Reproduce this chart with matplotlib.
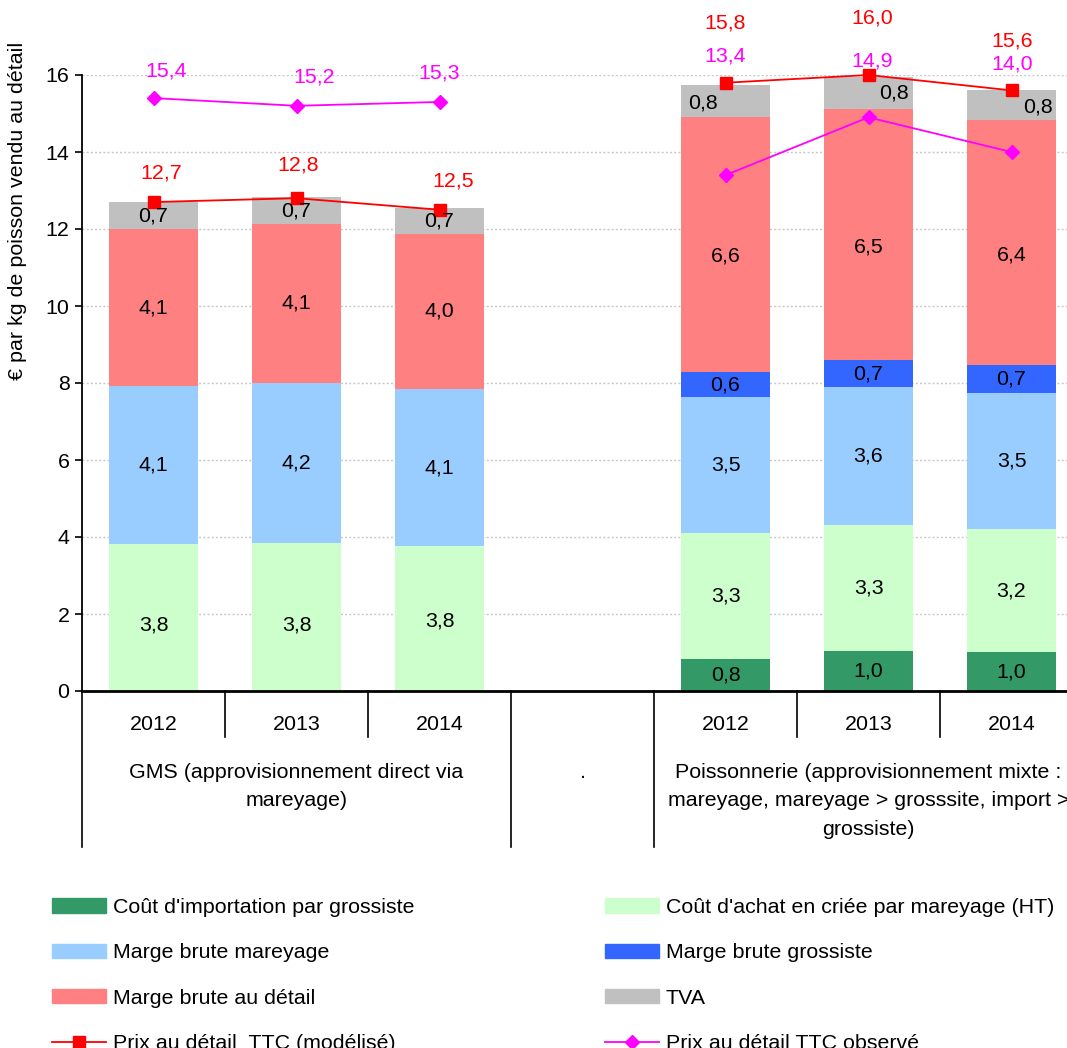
import numpy as np
import matplotlib
matplotlib.use("Agg")
import matplotlib.pyplot as plt
from matplotlib.patches import Patch
from matplotlib.lines import Line2D

plt.rcParams['font.family'] = ['Liberation Sans', 'DejaVu Sans']

# ---- data ---------------------------------------------------------------
years = ["2012", "2013", "2014", "", "2012", "2013", "2014"]
groups = ["GMS (approvisionnement direct via\nmareyage)",
          ".",
          "Poissonnerie (approvisionnement mixte :\nmareyage, mareyage > grosssite, import >\ngrossiste)"]

series_names = ["Coût d'importation par grossiste",
                "Coût d'achat en criée par mareyage (HT)",
                "Marge brute mareyage",
                "Marge brute grossiste",
                "Marge brute au détail",
                "TVA"]

cout_import = [0.00, 0.00, 0.00, 0.0, 0.83, 1.04, 1.01]
cout_criee = [3.82, 3.84, 3.76, 0.0, 3.27, 3.27, 3.20]
marge_mareyage = [4.10, 4.17, 4.08, 0.0, 3.54, 3.58, 3.53]
marge_grossiste = [0.00, 0.00, 0.00, 0.0, 0.64, 0.70, 0.72]
marge_detail = [4.08, 4.12, 4.04, 0.0, 6.64, 6.53, 6.36]
tva = [0.70, 0.70, 0.67, 0.0, 0.82, 0.84, 0.78]

prix_modelise = [12.7, 12.8, 12.5, np.nan, 15.8, 16.0, 15.6]
prix_observe = [15.4, 15.2, 15.3, np.nan, 13.4, 14.9, 14.0]
line_names = ["Prix au détail  TTC (modélisé)", "Prix au détail TTC observé"]

colors = ["#339966", "#CCFFCC", "#99CCFF", "#3366FF", "#FF8080", "#C0C0C0"]

# ---- figure -------------------------------------------------------------
W, H = 1067, 1048
fig = plt.figure(figsize=(W / 100, H / 100), dpi=100)
ax_left, ax_bottom, ax_top = 82, 691, 75
slot_px = 143.0
ax = fig.add_axes([ax_left / W, 1 - ax_bottom / H, 1 - ax_left / W, (ax_bottom - ax_top) / H])

x = np.arange(len(years))
ax.set_xlim(-0.5, -0.5 + (W - ax_left) / slot_px)
ax.set_ylim(0, 16)

FS = 15.4

# grid
for yv in range(2, 17, 2):
    ax.axhline(yv, color="#C8C8C8", lw=1.0, ls=(0, (1.5, 1.5)), zorder=0)

# stacked bars
stack = [cout_import, cout_criee, marge_mareyage, marge_grossiste, marge_detail, tva]
bottom = np.zeros(len(x))
# nudges (pixels, y up) for a few segment labels: (series, slot) -> (dx, dy)
nudges = {(1, 0): (0, -8), (1, 1): (0, -8), (1, 2): (0, -2),
          (4, 4): (0, -12), (4, 5): (0, -12), (4, 6): (0, -12),
          (5, 4): (-23, -2), (5, 5): (25, 0), (5, 6): (26, -2)}
bw = 0.62
for si, vals in enumerate(stack):
    vals = np.asarray(vals)
    ax.bar(x, vals, bw, bottom=bottom, color=colors[si], zorder=2, linewidth=0)
    for i, v in enumerate(vals):
        if v > 0:
            dx, dy = nudges.get((si, i), (0, 0))
            ax.annotate(f"{v:.1f}".replace(".", ","), (x[i], bottom[i] + v / 2),
                        xytext=(dx, dy), textcoords="offset pixels",
                        ha="center", va="center", fontsize=FS, color="black", zorder=5)
    bottom = bottom + vals

# price lines
ax.plot(x, prix_modelise, color="#FF0000", lw=1.3, marker="s", ms=8,
        zorder=4, clip_on=False)
ax.plot(x, prix_observe, color="#FF00FF", lw=1.3, marker="D", ms=7,
        zorder=4, clip_on=False)

mod_off = [(8, 29), (2, 33), (14, 29), None, (0, 60), (4, 57), (1, 49)]
obs_off = [(13, 27), (18, 29), (0, 29), None, (0, 119), (4, 56), (1, 88)]
for vals, offs, col in ((prix_modelise, mod_off, "#FF0000"), (prix_observe, obs_off, "#FF00FF")):
    for i, v in enumerate(vals):
        if offs[i] is None:
            continue
        ax.annotate(f"{v:.1f}".replace(".", ","), (x[i], v), xytext=offs[i],
                    textcoords="offset pixels", ha="center", va="center",
                    fontsize=FS, color=col, annotation_clip=False, zorder=6)

# axes styling
for s in ("top", "right"):
    ax.spines[s].set_visible(False)
ax.spines["left"].set_linewidth(1.3)
ax.spines["bottom"].set_linewidth(2.0)
ax.set_yticks(range(0, 17, 2))
ax.tick_params(axis="y", length=5, width=1.2, labelsize=FS, pad=4)
ax.set_xticks([])

fig.text(18 / W, 1 - 211 / H, "€ par kg de poisson vendu au détail", rotation=90,
         ha="center", va="center", fontsize=FS)

# multi-level category axis
axh = ax_bottom - ax_top
tr = ax.get_xaxis_transform()
short = -(737 - ax_bottom) / axh
long_ = -(847 - ax_bottom) / axh
for i, lab in enumerate(years):
    if lab:
        ax.text(x[i], -(724 - ax_bottom) / axh, lab, transform=tr, ha="center",
                va="center", fontsize=FS)
for b in [0.5, 1.5, 4.5, 5.5]:
    ax.add_line(Line2D([b, b], [0, short], transform=tr, color="black", lw=1.2, clip_on=False))
for b in [-0.5, 2.5, 3.5, 6.5]:
    ax.add_line(Line2D([b, b], [0, long_], transform=tr, color="black", lw=1.2, clip_on=False))
group_centers = [1, 3, 5]
for c, lab in zip(group_centers, groups):
    ax.text(c, -(763 - ax_bottom) / axh, lab, transform=tr, ha="center", va="top",
            fontsize=FS, linespacing=1.62)

# legend
handles = [Patch(color=colors[0]), Patch(color=colors[2]), Patch(color=colors[4]),
           Line2D([], [], color="#FF0000", lw=1.3, marker="s", ms=8),
           Patch(color=colors[1]), Patch(color=colors[3]), Patch(color=colors[5]),
           Line2D([], [], color="#FF00FF", lw=1.3, marker="D", ms=7)]
labels = [series_names[0], series_names[2], series_names[4], line_names[0],
          series_names[1], series_names[3], series_names[5], line_names[1]]
fig.legend(handles, labels, ncol=2, loc="upper left",
           bbox_to_anchor=(52 / W, 1 - 898 / H), frameon=False, fontsize=FS,
           borderpad=0, borderaxespad=0, handlelength=2.52, handleheight=0.65,
           handletextpad=0.33, columnspacing=8.9, labelspacing=1.23)

fig.savefig("out.png", dpi=100)
